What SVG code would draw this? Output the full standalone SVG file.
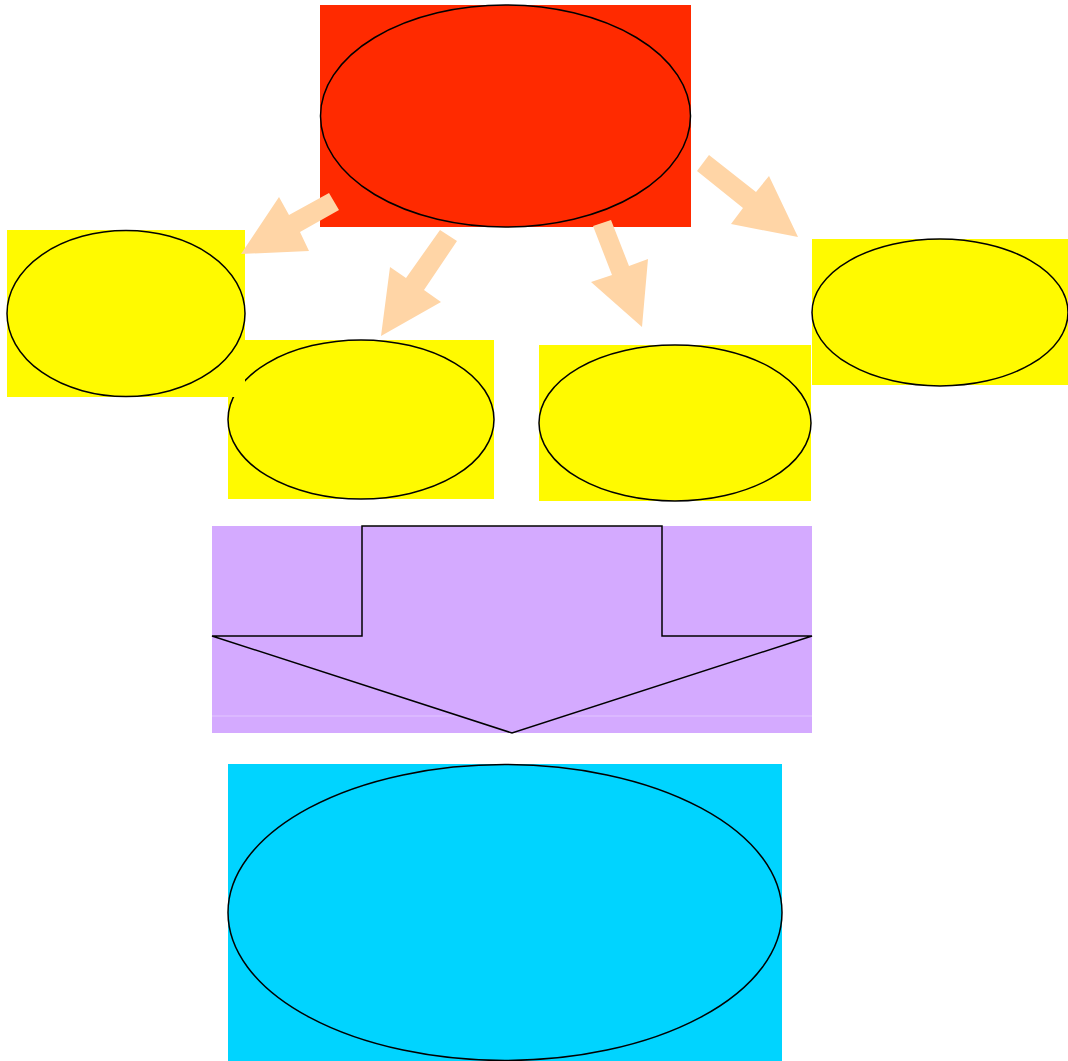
<svg xmlns="http://www.w3.org/2000/svg" width="1068" height="1061" viewBox="0 0 1068 1061">
<style>
.ell{stroke:#000;stroke-width:1.5}
.red{fill:#ff2a00}
.yel{fill:#fffa00}
.pur{fill:#d4aaff}
.cyan{fill:#00d4ff}
.arr{fill:#ffd5a6;stroke:none}
</style>
<rect width="1068" height="1061" fill="#fff"/>
<g id="node-top">
<rect class="red" x="320" y="5" width="371" height="222"/>
<ellipse class="ell red" cx="505.5" cy="116" rx="185" ry="111"/>
</g>
<g id="node-mid-left">
<rect class="yel" x="228" y="340" width="266" height="159"/>
<ellipse class="ell yel" cx="361" cy="419.5" rx="133" ry="79.5"/>
</g>
<g id="node-left">
<rect class="yel" x="7" y="230" width="238" height="167"/>
<ellipse class="ell yel" cx="126" cy="313.5" rx="119" ry="83"/>
</g>
<g id="node-mid-right">
<rect class="yel" x="539" y="345" width="272" height="156"/>
<ellipse class="ell yel" cx="675" cy="423" rx="136" ry="78"/>
</g>
<g id="node-right">
<rect class="yel" x="812" y="239" width="256" height="146"/>
<ellipse class="ell yel" cx="940" cy="312.5" rx="128" ry="73.5"/>
</g>
<g id="node-arrow">
<rect class="pur" x="212" y="526" width="600" height="207"/>
<line x1="212" y1="716" x2="812" y2="716" stroke="#e2c6ff" stroke-width="1"/>
<polygon class="ell pur" points="362,526 662,526 662,636 812,636 512,733 212,636 362,636"/>
</g>
<g id="node-bottom">
<rect class="cyan" x="228" y="764" width="554" height="297"/>
<ellipse class="ell cyan" cx="505" cy="912.5" rx="277" ry="148"/>
</g>
<g id="connectors">
<polygon class="arr" points="329,193 339,210 300,232 309,251 241,254 279,197 289,215"/>
<polygon class="arr" points="440,230 457,241 424,290 441,302 381,336 390,267 406,278"/>
<polygon class="arr" points="593,226 611,220 629,266 648,259 642,327 591,282 612,275"/>
<polygon class="arr" points="709,155 756,192 769,176 798,237 731,224 743,208 697,171"/>
</g>
</svg>
